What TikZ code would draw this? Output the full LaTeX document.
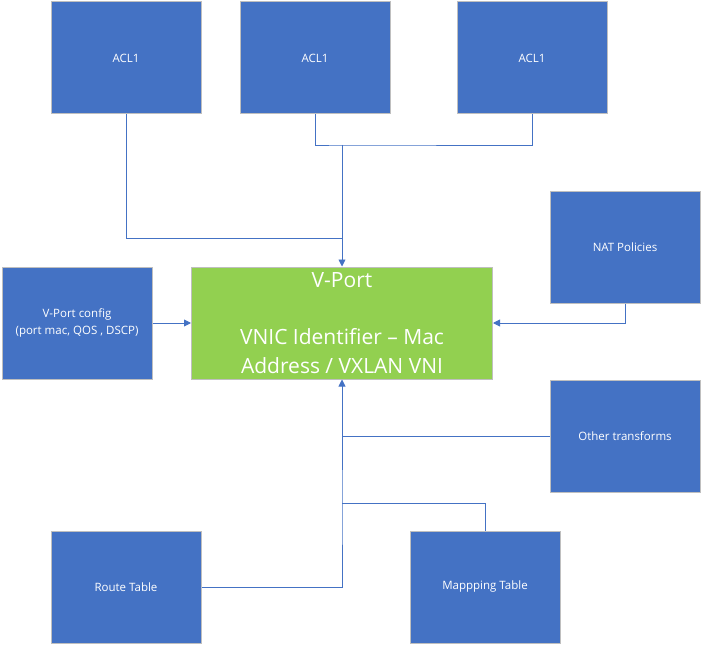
\documentclass[tikz,border=0pt]{standalone}
\usepackage{fontspec}
\setmainfont{Open Sans}
\usepackage{tikz}
\usetikzlibrary{arrows.meta,positioning}
\definecolor{bluex}{HTML}{4472C4}
\definecolor{greenx}{HTML}{92D050}
\definecolor{edgex}{HTML}{BFBFBF}
\tikzset{
  box/.style={draw=edgex,line width=1pt,fill=bluex,text=white,align=center,
    minimum width=150pt,minimum height=112pt,inner sep=2pt,
    font=\fontsize{11.5}{16.7}\selectfont},
  big/.style={box,fill=greenx,minimum width=301pt,font=\fontsize{21}{28.5}\selectfont},
  ln/.style={bluex,line width=0.9pt},
  ar/.style={ln,-{Triangle[length=7pt,width=7pt]}}
}
\begin{document}
\begin{tikzpicture}[x=1pt,y=-1pt]
\useasboundingbox (0,0) rectangle (703,647);
\node[box] (acla) at (126,58) {ACL1};
\node[box] (aclb) at (315,58) {ACL1};
\node[box] (aclc) at (532,58) {ACL1};
\node[box] (nat) at (625,247) {NAT Policies};
\node[box] (cfg) at (77,323) {V-Port config\\(port mac, QOS , DSCP)};
\node[big] (vport) at (342,323) {V-Port\\[28.5pt]VNIC Identifier -- Mac\\Address / VXLAN VNI};
\node[box] (other) at (625,436) {Other transforms};
\node[box] (route) at (126,587) {Route Table};
\node[box] (map) at (485,587) {Mappping Table};
\coordinate (jtop) at (342,238);
\coordinate (jmid) at (342,145);
\coordinate (jlow) at (342,503);
% inputs from the top
\draw[ln] (acla.south) |- (jtop);
\draw[ln] (aclb.south) |- (jmid) -| (aclc.south);
\draw[ar] (jmid) -- (vport.north);
% sides
\draw[ar] (cfg) -- (vport);
\draw[ar] (nat.south) |- (vport.east);
% inputs from below
\draw[ar] (other.west) -| (vport.south);
\draw[ln] (route.east) -| (jlow) -- (jlow |- other.west);
\draw[ln] (map.north) |- (jlow);
\end{tikzpicture}
\end{document}
